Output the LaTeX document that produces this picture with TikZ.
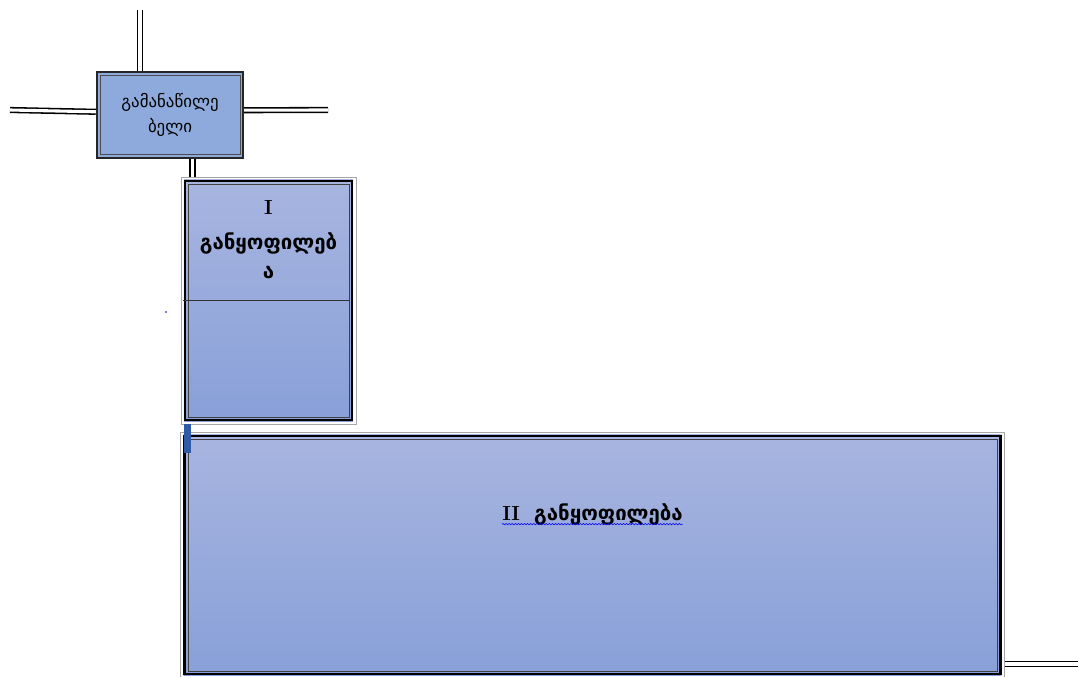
\documentclass[tikz,border=0pt]{standalone}
\usepackage{fontspec}
\usetikzlibrary{positioning, decorations.pathmorphing}
\newfontfamily\geofont{DejaVu Sans}
\definecolor{distfill}{RGB}{142,170,220}
\definecolor{sectop}{RGB}{168,181,224}
\definecolor{secbottom}{RGB}{136,160,216}
\definecolor{markblue}{RGB}{46,90,168}

\begin{document}
\begin{tikzpicture}[
        x=0.025cm, y=-0.025cm,
        distrib/.style={rectangle, minimum width=3.65cm, minimum height=2.15cm, draw=black!85, line width=1.7pt, fill=distfill, align=center, font=\geofont\fontsize{12}{18}\selectfont,
            path picture={\draw[black!70, line width=0.6pt] ([shift={(2.2pt,-2.2pt)}]path picture bounding box.north west) rectangle ([shift={(-2.2pt,2.2pt)}]path picture bounding box.south east);}},
        section/.style={rectangle, draw=gray!70, line width=0.6pt, inner sep=0pt,
            path picture={
                \shade[top color=sectop, bottom color=secbottom] ([shift={(2pt,-2pt)}]path picture bounding box.north west) rectangle ([shift={(-2pt,2pt)}]path picture bounding box.south east);
                \draw[black, line width=1.5pt] ([shift={(2.6pt,-2.6pt)}]path picture bounding box.north west) rectangle ([shift={(-2.6pt,2.6pt)}]path picture bounding box.south east);
                \draw[black!75, line width=0.5pt] ([shift={(5pt,-5pt)}]path picture bounding box.north west) rectangle ([shift={(-5pt,5pt)}]path picture bounding box.south east);}},
        sectext/.style={inner sep=0pt, align=center, font=\bfseries\fontsize{14.5}{20}\selectfont},
        divider/.style={draw=black!80, line width=1.3pt},
        link/.style={draw=black, line width=1.1pt, double=white, double distance=2.2pt},
        spellmark/.style={draw=blue, line width=0.4pt, decorate, decoration={snake, amplitude=0.5pt, segment length=2.2pt}}
    ]
        \useasboundingbox (0,0) rectangle (1078,677);

        % Distributor and its free ends
        \node (distrib) [distrib] at (170,115) {გამანაწილე\\ბელი};
        \coordinate (topend) at (140,10);
        \coordinate (leftend) at (10,110);
        \coordinate (rightstub) at (328,110);

        % Sections
        \node (secone) [section, minimum width=4.375cm, minimum height=6.175cm] at (268.5,300.5) {};
        \node (sectwo) [section, minimum width=20.575cm, minimum height=6.15cm] at (592.5,555) {};
        \coordinate (rightend) at (1078,664);

        % Section texts
        \node (seconetext) [sectext, below=0.6cm of secone.north] {I\\[5pt]{\geofont განყოფილებ}\\{\geofont ა}};
        \node (sectwotext) [sectext, below=1.8cm of sectwo.north] {II\hspace{0.7em}{\geofont განყოფილება}};
        \draw [spellmark] ([yshift=-2.5pt]sectwotext.base west) -- ([yshift=-2.5pt]sectwotext.base east);
        \draw [divider] ([xshift=2pt]secone.west) -- ([xshift=-5pt]secone.east);

        % Connectors
        \draw [link] (topend) -- (topend |- distrib.north);
        \draw [link] (leftend) -- ([yshift=0.08cm]distrib.west);
        \draw [link] ([yshift=0.12cm]distrib.east) -- (rightstub);
        \draw [link] ([xshift=0.3cm]secone.north west |- distrib.south) -- ([xshift=0.3cm]secone.north west);
        \draw [link] (sectwo.east |- rightend) -- (rightend);

        % Marks
        \fill [markblue] (184,424) rectangle (191,453);
        \fill [blue!70] (166,312) circle (0.8pt);

    \end{tikzpicture}
\end{document}
